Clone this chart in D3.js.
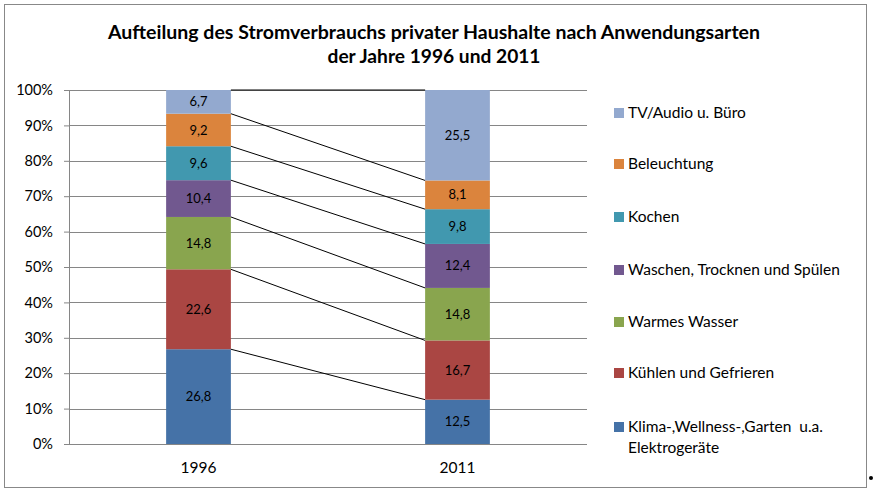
<!DOCTYPE html>
<html>
<head>
<meta charset="utf-8">
<script src="https://cdn.jsdelivr.net/npm/d3@7"></script>
<style>
  body { margin: 0; background: #fff; }
  svg { font-family: Lato, "Open Sans", sans-serif; }
</style>
</head>
<body>
<div id="chart"></div>
<script>
// categories and values (bottom to top of the stack)
const years = ["1996", "2011"];
const seriesNames = [
  "Klima-,Wellness-,Garten  u.a. Elektrogeräte",
  "Kühlen und Gefrieren",
  "Warmes Wasser",
  "Waschen, Trocknen und Spülen",
  "Kochen",
  "Beleuchtung",
  "TV/Audio u. Büro"
];
const values1996 = [26.8, 22.6, 14.8, 10.4, 9.6, 9.2, 6.7];
const values2011 = [12.5, 16.7, 14.8, 12.4, 9.8, 8.1, 25.5];
const seriesColors = ["#4572A7", "#AA4643", "#89A54E", "#71588F", "#4198AF", "#DB843D", "#93A9CF"];
const yTicks = [0, 0.1, 0.2, 0.3, 0.4, 0.5, 0.6, 0.7, 0.8, 0.9, 1];
const titleLines = [
  "Aufteilung des Stromverbrauchs privater Haushalte nach Anwendungsarten",
  "der Jahre 1996 und 2011"
];

const width = 874, height = 492;

const svg = d3.select("#chart")
  .append("svg")
  .attr("width", width)
  .attr("height", height);

// outer frame
svg.append("rect")
  .attr("x", 4.5).attr("y", 4.5)
  .attr("width", 862).attr("height", 483)
  .attr("fill", "#fff")
  .attr("stroke", "#888")
  .attr("stroke-width", 1);

// title
const titleWidths = [652, 213];
svg.append("g")
  .selectAll("text")
  .data(titleLines)
  .enter()
  .append("text")
  .attr("x", 434)
  .attr("y", (d, i) => 39 + i * 24)
  .attr("text-anchor", "middle")
  .attr("textLength", (d, i) => titleWidths[i])
  .attr("lengthAdjust", "spacingAndGlyphs")
  .style("font-size", "18px")
  .style("font-weight", "bold")
  .text((d) => d);

// table for d3.stack
const table = years.map((y, i) => {
  const row = { year: y };
  seriesNames.forEach((s, j) => {
    row[s] = (i === 0 ? values1996 : values2011)[j];
  });
  return row;
});

const stacked = d3.stack()
  .keys(seriesNames)
  .offset(d3.stackOffsetExpand)(table);

const x = d3.scaleBand()
  .domain(years)
  .range([69, 587])
  .paddingInner(0.75)
  .paddingOuter(0.375);

const y = d3.scaleLinear()
  .domain([0, 1])
  .range([444, 90]);

// gridlines + y axis
const yAxis = d3.axisLeft(y)
  .tickValues(yTicks)
  .tickFormat(d3.format(".0%"))
  .tickSize(5)
  .tickPadding(11);

const gy = svg.append("g")
  .attr("transform", "translate(69,0)")
  .call(yAxis);
gy.select(".domain").attr("stroke", "#868686");
gy.selectAll(".tick line").attr("stroke", "#868686");
gy.selectAll(".tick text")
  .attr("fill", "#000")
  .style("font-size", "14.5px")
  .style("font-family", "Lato, sans-serif");

svg.append("g")
  .selectAll("line")
  .data(yTicks)
  .enter()
  .append("line")
  .attr("x1", 69)
  .attr("x2", 587)
  .attr("y1", (d) => Math.round(y(d)) + 0.5)
  .attr("y2", (d) => Math.round(y(d)) + 0.5)
  .attr("stroke", "#868686")
  .attr("stroke-width", 1);

// x axis labels
const xAxis = d3.axisBottom(x).tickSize(0).tickPadding(18);
const gx = svg.append("g")
  .attr("transform", "translate(0,444)")
  .call(xAxis);
gx.select(".domain").remove();
gx.selectAll(".tick text")
  .attr("fill", "#000")
  .style("font-size", "15.5px")
  .style("font-family", "Lato, sans-serif");

// bars
const layers = svg.append("g")
  .selectAll("g")
  .data(stacked)
  .enter()
  .append("g")
  .attr("fill", (d, i) => seriesColors[i]);

layers.selectAll("rect")
  .data((d) => d)
  .enter()
  .append("rect")
  .attr("x", (d) => x(d.data.year))
  .attr("y", (d) => y(d[1]))
  .attr("width", x.bandwidth())
  .attr("height", (d) => y(d[0]) - y(d[1]));

// series lines between top edges of each segment
svg.append("g")
  .selectAll("line")
  .data(stacked)
  .enter()
  .append("line")
  .attr("x1", x(years[0]) + x.bandwidth())
  .attr("x2", x(years[1]))
  .attr("y1", (d) => y(d[0][1]))
  .attr("y2", (d) => y(d[1][1]))
  .attr("stroke", "#000")
  .attr("stroke-width", 1);

// data labels
layers.selectAll("text")
  .data((d) => d.map((p) => ({ p, key: d.key })))
  .enter()
  .append("text")
  .attr("x", (d) => x(d.p.data.year) + x.bandwidth() / 2)
  .attr("y", (d) => (y(d.p[0]) + y(d.p[1])) / 2)
  .attr("dy", "0.35em")
  .attr("text-anchor", "middle")
  .attr("fill", "#000")
  .style("font-size", "13px")
  .text((d) => String(d.p.data[d.key]).replace(".", ","));

// legend (top entry = last series)
const legendY = [113, 164, 217, 270, 322, 373, 427];
const legendItems = seriesNames.slice().reverse();
const legend = svg.append("g")
  .selectAll("g")
  .data(legendItems)
  .enter()
  .append("g")
  .attr("transform", (d, i) => `translate(614,${legendY[i]})`);

legend.append("rect")
  .attr("x", 0)
  .attr("y", -5)
  .attr("width", 10)
  .attr("height", 10)
  .attr("fill", (d) => seriesColors[seriesNames.indexOf(d)]);

legend.append("text")
  .attr("x", 14)
  .attr("y", 0)
  .attr("dy", "0.35em")
  .style("font-size", "15.5px")
  .each(function (d) {
    const t = d3.select(this);
    if (d.indexOf("Elektrogeräte") >= 0) {
      t.append("tspan").attr("x", 14).text("Klima-,Wellness-,Garten  u.a.").style("white-space", "pre");
      t.append("tspan").attr("x", 14).attr("dy", "1.35em").text("Elektrogeräte");
    } else {
      t.text(d);
    }
  });

// small stray mark at the right edge
svg.append("circle")
  .attr("cx", 871)
  .attr("cy", 478)
  .attr("r", 2)
  .attr("fill", "#000");
</script>
</body>
</html>
